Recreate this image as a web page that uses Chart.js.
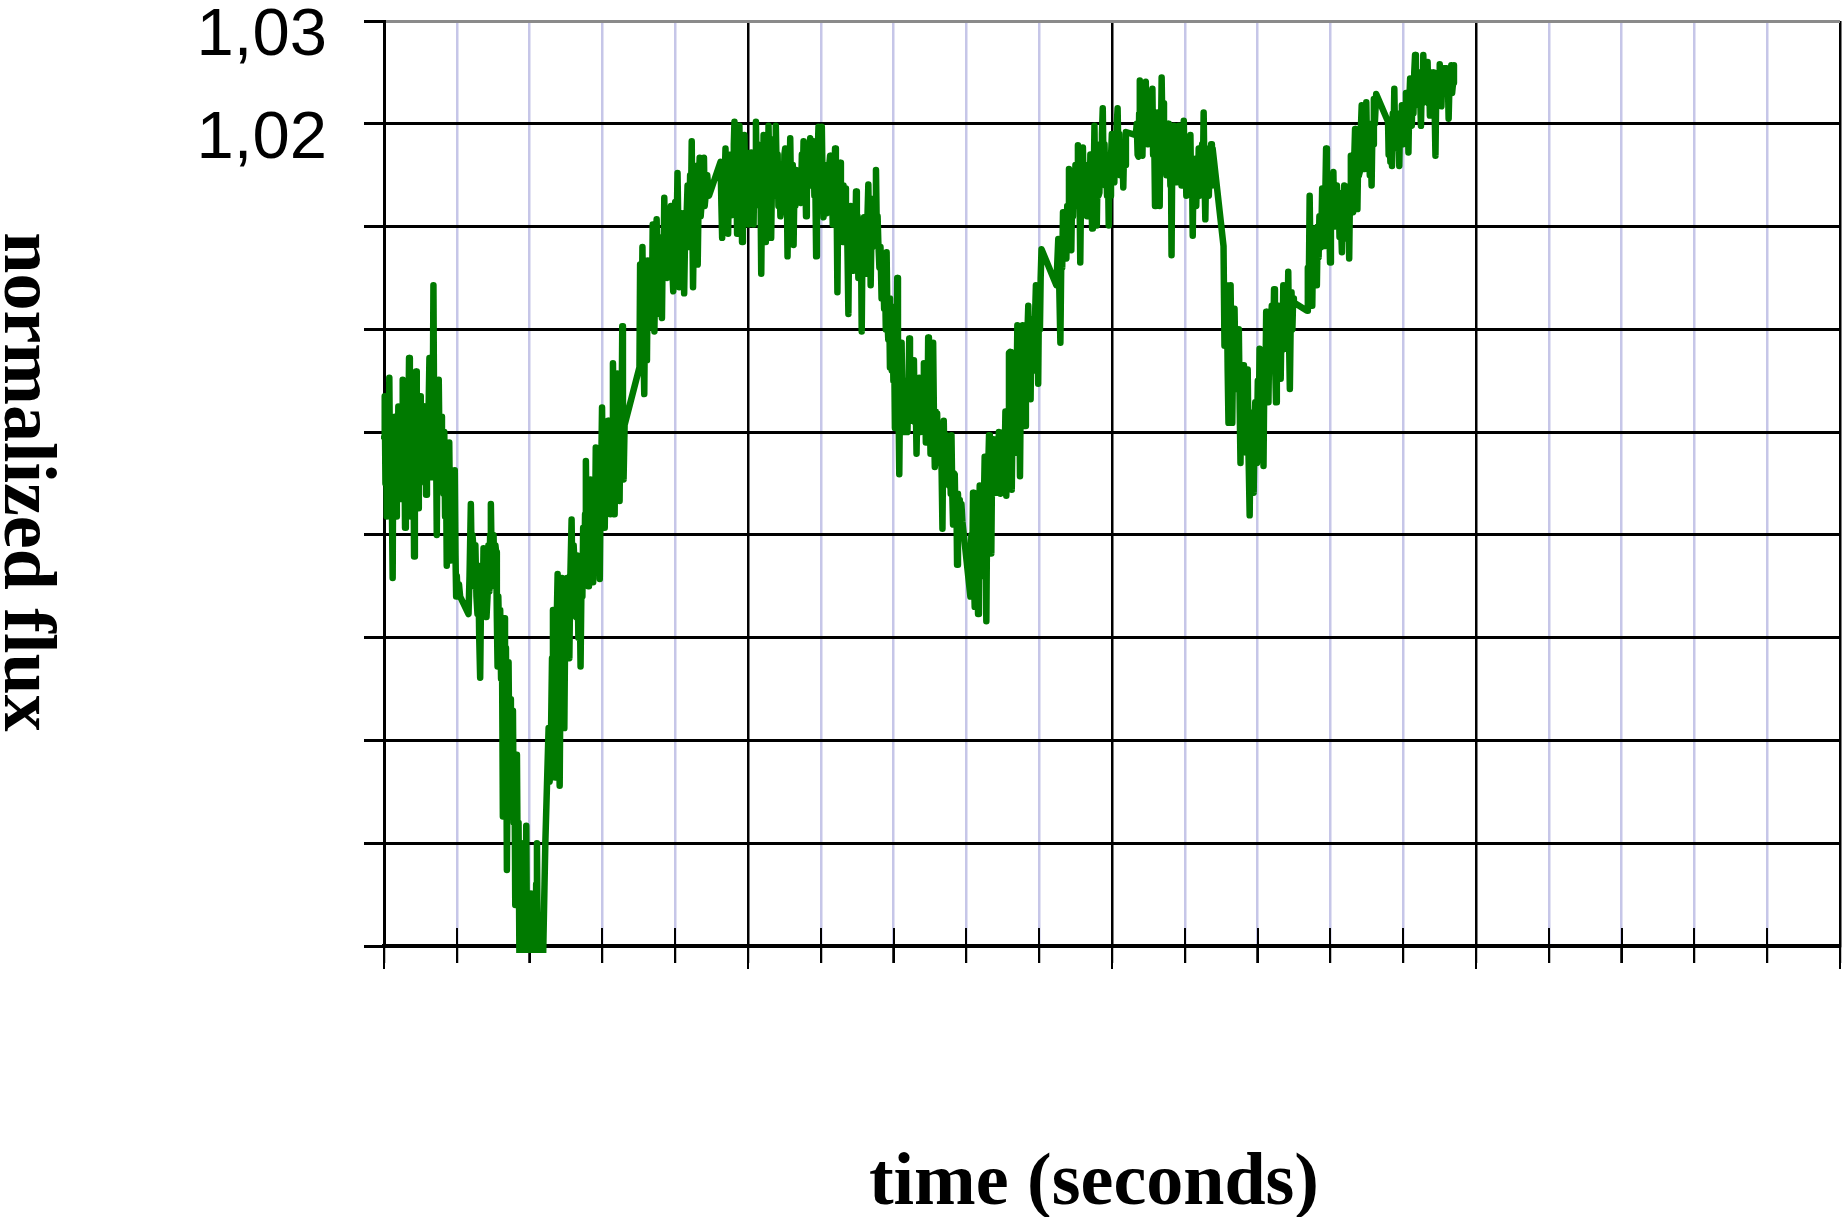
<!DOCTYPE html>
<html>
<head>
<meta charset="utf-8">
<title>normalized flux</title>
<script src="https://cdn.jsdelivr.net/npm/chart.js@4.4.1/dist/chart.umd.min.js"></script>
<style>
  html, body { margin: 0; padding: 0; background: #fff; }
  #wrap { position: relative; width: 1842px; height: 1217px; }
</style>
</head>
<body>
<div id="wrap"><canvas id="c"></canvas></div>
<script>
// Light-curve readings: [time (grid units of the time axis), normalized flux]
const readings = [
  [0,.9895],[.010,.9935],[.020,.9850],[.030,.9905],[.037,.9818],[.048,.9890],[.060,.9840],[.073,.9953],
  [.084,.9855],[.096,.9880],[.108,.9830],[.119,.9758],[.128,.9900],[.138,.9860],[.150,.9915],[.165,.9818],
  [.176,.9895],[.186,.9845],[.197,.9925],[.210,.9850],[.220,.9900],[.229,.9835],[.240,.9920],[.248,.9860],
  [.257,.9951],[.268,.9850],[.278,.9910],[.289,.9807],[.300,.9880],[.312,.9930],[.322,.9850],[.334,.9900],
  [.344,.9972],[.355,.9870],[.367,.9818],[.378,.9910],[.390,.9860],[.401,.9915],[.413,.9779],[.424,.9880],
  [.432,.9850],[.440,.9959],[.450,.9855],[.460,.9905],[.468,.9826],[.478,.9895],[.487,.9850],[.495,.9935],
  [.505,.9870],[.514,.9915],[.523,.9852],[.532,.9905],[.541,.9860],[.550,.9925],[.560,.9860],[.569,.9900],
  [.578,.9839],[.590,.9905],[.601,.9870],[.612,.9920],[.624,.9972],[.635,.9880],[.647,.9856],[.658,.9940],
  [.668,.9900],[.679,1.0043],[.688,.9920],[.697,.9886],[.710,.9940],[.725,.9800],[.735,.9900],[.744,.9860],
  [.752,.9951],[.763,.9880],[.775,.9878],[.785,.9915],[.796,.9850],[.807,.9895],[.818,.9840],[.828,.9900],
  [.839,.9818],[.850,.9880],[.862,.9770],[.873,.9870],[.885,.9843],[.896,.9890],[.907,.9820],[.917,.9775],
  [.928,.9850],[.937,.9800],[.945,.9861],[.955,.9790],[.964,.9840],[.972,.9863],[.982,.9780],[.991,.9740],
  [1.000,.9760],[1.010,.9745],[1.030,.9752],[1.046,.9740],[1.161,.9723],[1.175,.9760],[1.193,.9830],[1.205,.9770],
  [1.215,.9800],[1.229,.9787],[1.240,.9750],[1.255,.9790],[1.270,.9740],[1.284,.9723],[1.295,.9770],[1.308,.9700],
  [1.321,.9661],[1.333,.9740],[1.345,.9770],[1.357,.9730],[1.367,.9787],[1.380,.9745],[1.393,.9770],[1.408,.9720],
  [1.422,.9740],[1.435,.9790],[1.447,.9745],[1.458,.9800],[1.468,.9830],[1.480,.9770],[1.493,.9795],[1.505,.9800],
  [1.517,.9750],[1.530,.9790],[1.541,.9783],[1.550,.9720],[1.560,.9672],[1.570,.9740],[1.582,.9700],[1.596,.9727],
  [1.608,.9660],[1.620,.9700],[1.633,.9526],[1.642,.9650],[1.651,.9719],[1.662,.9640],[1.675,.9690],[1.688,.9474],
  [1.700,.9620],[1.711,.9676],[1.722,.9580],[1.733,.9640],[1.743,.9543],[1.755,.9610],[1.763,.9560],[1.771,.9629],
  [1.782,.9520],[1.792,.9580],[1.803,.9440],[1.815,.9530],[1.826,.9586],[1.836,.9480],[1.848,.9520],[1.862,.9370],
  [1.870,.9460],[1.880,.9400],[1.894,.9500],[1.905,.9380],[1.915,.9440],[1.927,.9370],[1.935,.9480],[1.945,.9390],
  [1.954,.9517],[1.965,.9380],[1.975,.9430],[1.986,.9370],[1.995,.9420],[2.006,.9370],[2.018,.9451],[2.028,.9380],
  [2.040,.9420],[2.055,.9370],[2.068,.9440],[2.080,.9380],[2.090,.9460],[2.101,.9500],[2.112,.9390],[2.125,.9430],
  [2.138,.9370],[2.150,.9410],[2.165,.9370],[2.180,.9370],
  [2.216,.9500],[2.240,.9560],[2.261,.9612],[2.275,.9560],[2.294,.9607],[2.308,.9680],[2.321,.9727],[2.335,.9640],
  [2.353,.9564],[2.368,.9700],[2.385,.9762],[2.398,.9660],[2.413,.9556],[2.428,.9700],[2.445,.9758],[2.460,.9680],
  [2.477,.9612],[2.490,.9720],[2.502,.9680],[2.514,.9758],[2.530,.9700],[2.546,.9680],
  [2.560,.9760],[2.577,.9815],[2.590,.9740],[2.605,.9790],[2.623,.9763],[2.640,.9720],[2.655,.9780],[2.670,.9700],
  [2.685,.9760],[2.700,.9672],[2.715,.9770],[2.725,.9740],[2.736,.9807],[2.750,.9760],[2.762,.9820],[2.773,.9872],
  [2.785,.9790],[2.795,.9830],[2.805,.9750],[2.815,.9810],[2.825,.9780],[2.836,.9854],[2.848,.9790],[2.860,.9830],
  [2.873,.9754],[2.885,.9820],[2.897,.9790],[2.909,.9885],[2.920,.9800],[2.930,.9850],[2.941,.9807],[2.952,.9850],
  [2.964,.9757],[2.975,.9840],[2.985,.9870],[2.995,.9924],[3.010,.9830],[3.020,.9870],[3.032,.9807],[3.045,.9880],
  [3.060,.9840],[3.077,.9911],[3.090,.9850],[3.100,.9890],[3.109,.9820],[3.120,.9900],[3.133,.9870],[3.145,.9967],
  [3.157,.9880],[3.168,.9820],[3.180,.9910],[3.192,.9870],[3.205,.9957],[3.218,.9880],[3.228,.9920],[3.236,.9833],
  [3.248,.9920],[3.260,.9880],[3.273,1.0003],[3.282,.9900],[3.291,.9854],[3.305,.9907],[3.509,.9963],
  [3.518,1.0063],[3.527,.9990],[3.536,.9980],[3.550,1.0080],[3.562,.9990],[3.575,.9937],[3.588,1.0040],[3.600,1.0030],
  [3.612,.9970],[3.623,1.0067],[3.640,1.0010],[3.655,1.0002],[3.670,1.0060],[3.680,1.0020],[3.691,1.0102],[3.703,1.0040],
  [3.714,.9998],[3.728,1.0070],[3.745,1.0107],[3.760,1.0040],[3.770,1.0080],[3.782,1.0015],[3.795,1.0080],[3.805,1.0040],
  [3.818,1.0011],[3.830,1.0090],[3.840,1.0060],[3.850,1.0128],[3.862,1.0070],[3.873,1.0085],[3.890,1.0050],[3.909,1.0080],
  [3.925,1.0100],[3.941,1.0120],[3.955,1.0070],[3.973,1.0037],[3.987,1.0100],[4.000,1.0124],[4.015,1.0080],[4.032,1.0152],
  [4.045,1.0090],[4.055,1.0041],[4.070,1.0110],[4.080,1.0080],[4.091,1.0113],[4.105,1.0060],[4.115,1.0110],[4.123,1.0035],
  [4.138,1.0100],[4.155,1.0107],[4.170,1.0140],[4.180,1.0080],[4.191,1.0093],[4.205,1.0150],[4.215,1.0110],[4.227,1.0183],
  [4.236,1.0100],[4.245,1.0041],[4.260,1.0120],[4.270,1.0100],[4.282,1.0159],[4.295,1.0100],[4.309,1.0063],[4.322,1.0130],
  [4.336,1.0167],[4.350,1.0110],[4.364,1.0124],[4.380,1.0150],[4.395,1.0167],[4.405,1.0120],[4.418,1.0130],[4.440,1.0150],
  [4.464,1.0130],
  [4.623,1.0163],[4.635,1.0120],[4.645,1.0089],[4.658,1.0160],[4.670,1.0130],[4.681,1.0150],[4.691,1.0176],[4.705,1.0120],
  [4.717,1.0150],[4.727,1.0093],[4.740,1.0160],[4.750,1.0130],[4.762,1.0170],[4.773,1.0111],[4.785,1.0170],[4.795,1.0140],
  [4.805,1.0180],[4.814,1.0202],[4.825,1.0140],[4.838,1.0170],[4.850,1.0093],[4.860,1.0160],[4.870,1.0140],[4.882,1.0198],
  [4.895,1.0130],[4.905,1.0170],[4.918,1.0085],[4.930,1.0160],[4.940,1.0130],[4.950,1.0189],[4.963,1.0140],[4.977,1.0172],
  [4.990,1.0120],[5.000,1.0160],[5.009,1.0102],[5.020,1.0170],[5.032,1.0130],[5.045,1.0172],[5.055,1.0120],[5.066,1.0160],
  [5.077,1.0102],[5.088,1.0170],[5.098,1.0140],[5.109,1.0202],[5.120,1.0140],[5.133,1.0180],[5.145,1.0172],[5.158,1.0120],
  [5.170,1.0150],[5.182,1.0054],[5.195,1.0150],[5.205,1.0120],[5.214,1.0189],[5.225,1.0130],[5.235,1.0160],[5.245,1.0085],
  [5.258,1.0160],[5.270,1.0130],[5.282,1.0198],[5.295,1.0140],[5.307,1.0160],[5.318,1.0089],[5.330,1.0150],[5.340,1.0170],
  [5.350,1.0185],[5.362,1.0130],[5.372,1.0170],[5.382,1.0198],[5.395,1.0150],[5.407,1.0170],[5.418,1.0120],
  [5.430,1.0160],[5.445,1.0110],[5.466,1.0123],[5.478,1.0160],[5.490,1.0130],[5.500,1.0170],[5.511,1.0176],[5.522,1.0120],
  [5.532,1.0150],[5.543,1.0071],[5.555,1.0150],[5.567,1.0130],[5.580,1.0186],[5.592,1.0130],[5.605,1.0160],[5.615,1.0120],
  [5.626,1.0082],[5.638,1.0140],[5.650,1.0120],[5.662,1.0155],[5.726,1.0123],[5.740,1.0170],[5.752,1.0140],[5.763,1.0183],
  [5.775,1.0130],[5.786,1.0160],[5.797,1.0110],[5.808,1.0130],[5.820,1.0170],[5.832,1.0140],[5.843,1.0175],[5.854,1.0186],
  [5.866,1.0140],[5.877,1.0170],[5.888,1.0150],[5.900,1.0183],[5.912,1.0130],[5.924,1.0150],[5.936,1.0071],[5.946,1.0150],
  [5.957,1.0170],[5.968,1.0197],[5.980,1.0150],[5.991,1.0180],[6.003,1.0140],[6.014,1.0197],[6.025,1.0140],[6.037,1.0109],
  [6.048,1.0160],[6.060,1.0130],[6.070,1.0150],[6.082,1.0113],[6.094,1.0150],[6.106,1.0130],[6.117,1.0160],[6.128,1.0169],
  [6.140,1.0120],[6.152,1.0140],[6.164,1.0102],[6.175,1.0150],[6.185,1.0130],[6.196,1.0176],[6.207,1.0110],[6.217,1.0130],
  [6.228,1.0036],[6.240,1.0130],[6.252,1.0100],[6.265,1.0162],[6.276,1.0110],[6.288,1.0130],[6.301,1.0085],[6.312,1.0140],
  [6.322,1.0110],[6.333,1.0137],[6.345,1.0090],[6.357,1.0120],[6.368,1.0070],[6.379,1.0015],[6.390,1.0100],[6.400,1.0080],
  [6.411,1.0120],[6.423,1.0080],[6.435,1.0110],[6.447,1.0057],[6.460,1.0110],[6.472,1.0080],[6.484,1.0134],[6.495,1.0080],
  [6.505,1.0110],[6.516,1.0050],[6.530,1.0100],[6.540,1.0060],[6.551,1.0090],[6.562,.9998],[6.572,1.0080],[6.583,1.0060],
  [6.594,1.0109],[6.605,1.0060],[6.617,1.0090],[6.630,1.0054],[6.641,1.0110],[6.653,1.0141],[6.664,1.0080],[6.675,1.0110],
  [6.685,1.0043],[6.697,1.0100],[6.709,1.0080],[6.721,1.0127],[6.733,1.0090],[6.745,1.0120],[6.758,1.0155],[6.770,1.0090],
  [6.780,1.0110],[6.790,1.0085],
  [6.805,1.0060],[6.820,1.0080],[6.835,1.0030],[6.845,1.0060],[6.858,1.0057],[6.870,1.0020],[6.882,1.0050],[6.893,1.0000],
  [6.904,1.0075],[6.915,1.0010],[6.927,.9990],[6.938,1.0030],[6.950,.9963],[6.962,1.0000],[6.975,.9960],[6.986,1.0022],
  [6.997,.9950],[7.008,.9980],[7.018,.9904],[7.030,.9970],[7.040,.9940],[7.050,1.0050],[7.060,.9950],[7.070,.9910],
  [7.078,.9859],[7.090,.9950],[7.100,.9920],[7.110,.9987],[7.121,.9920],[7.131,.9950],[7.142,.9900],[7.155,.9950],
  [7.166,.9920],[7.178,.9946],[7.190,.9900],[7.203,.9940],[7.215,.9991],[7.225,.9920],[7.236,.9950],[7.247,.9911],
  [7.258,.9950],[7.268,.9920],[7.279,.9970],[7.290,.9910],[7.302,.9940],[7.315,.9879],[7.327,.9930],[7.340,.9900],
  [7.352,.9953],[7.363,.9900],[7.373,.9930],[7.384,.9911],[7.395,.9950],[7.405,.9910],[7.416,.9967],[7.427,.9900],
  [7.435,.9930],[7.443,.9890],[7.455,.9940],[7.465,.9910],[7.475,.9992],[7.485,.9910],[7.496,.9930],[7.507,.9879],
  [7.518,.9940],[7.530,.9900],[7.543,.9987],[7.555,.9910],[7.566,.9866],[7.578,.9920],[7.588,.9890],[7.598,.9918],
  [7.610,.9870],[7.622,.9900],[7.635,.9879],[7.648,.9900],[7.660,.9860],[7.671,.9806],[7.680,.9880],[7.689,.9911],
  [7.700,.9860],[7.713,.9880],[7.726,.9897],[7.738,.9850],[7.750,.9880],[7.763,.9848],[7.775,.9870],[7.785,.9840],
  [7.795,.9897],[7.806,.9840],[7.817,.9810],[7.828,.9860],[7.840,.9859],[7.851,.9810],[7.862,.9840],[7.872,.9771],
  [7.884,.9840],[7.896,.9810],[7.909,.9834],[7.920,.9800],[7.932,.9830],[7.945,.9813],[8.055,.9740],[8.068,.9800],
  [8.080,.9760],[8.091,.9841],[8.103,.9760],[8.114,.9730],[8.126,.9790],[8.138,.9750],[8.149,.9780],[8.160,.9723],
  [8.172,.9800],[8.183,.9848],[8.195,.9780],[8.206,.9820],[8.217,.9760],[8.228,.9771],[8.240,.9830],[8.251,.9876],
  [8.262,.9790],[8.274,.9716],[8.285,.9820],[8.298,.9860],[8.311,.9897],[8.322,.9830],[8.332,.9860],[8.342,.9782],
  [8.352,.9860],[8.362,.9840],[8.374,.9893],[8.386,.9850],[8.398,.9870],[8.411,.9841],[8.422,.9890],[8.434,.9860],
  [8.446,.9900],[8.457,.9893],[8.468,.9840],[8.480,.9880],[8.491,.9850],[8.502,.9862],[8.514,.9900],[8.525,.9870],
  [8.536,.9920],[8.548,.9838],[8.560,.9910],[8.572,.9870],[8.585,.9977],
  [8.600,.9978],[8.612,.9900],[8.623,.9844],[8.635,.9920],[8.645,.9880],[8.656,.9960],[8.668,.9939],[8.680,.9880],
  [8.690,.9950],[8.700,1.0004],[8.712,.9920],[8.724,.9960],[8.736,.9857],[8.748,.9950],[8.760,.9920],[8.773,1.0004],
  [8.785,.9940],[8.795,.9970],[8.805,.9906],[8.817,.9980],[8.830,.9950],[8.840,1.0000],[8.850,1.0023],[8.860,.9960],
  [8.871,.9990],[8.882,.9932],[8.893,1.0010],[8.905,.9970],[8.918,1.0000],[8.930,.9960],[8.942,1.0010],[8.955,1.0043],
  [8.965,.9980],[8.975,1.0020],[8.986,.9947],[8.998,1.0040],[9.010,1.0000],[9.020,1.0050],[9.032,1.0078],[9.236,1.0043],
  [9.262,1.0088],[9.291,.9987],
  [9.305,1.0080],[9.316,1.0060],[9.327,1.0114],[9.338,1.0070],[9.350,1.0100],[9.362,1.0080],[9.373,1.0069],[9.385,1.0120],
  [9.397,1.0100],[9.409,1.0156],[9.420,1.0100],[9.430,1.0120],[9.441,1.0077],[9.452,1.0130],[9.464,1.0110],[9.475,1.0150],
  [9.486,1.0127],[9.498,1.0160],[9.510,1.0120],[9.521,1.0150],[9.532,1.0179],[9.543,1.0120],[9.553,1.0140],[9.564,1.0065],
  [9.576,1.0140],[9.588,1.0120],[9.600,1.0177],[9.612,1.0130],[9.623,1.0160],[9.634,1.0120],[9.645,1.0150],[9.657,1.0110],
  [9.668,1.0160],[9.680,1.0130],[9.691,1.0111],[9.703,1.0170],[9.715,1.0130],[9.727,1.0098],[9.737,1.0160],[9.748,1.0140],
  [9.759,1.0198],[9.770,1.0130],[9.780,1.0160],[9.791,1.0101],[9.803,1.0160],[9.815,1.0130],[9.827,1.0133],[9.838,1.0180],
  [9.850,1.0150],[9.862,1.0190],[9.873,1.0215],[9.885,1.0150],[9.897,1.0180],[9.909,1.0140],[9.920,1.0170],[9.932,1.0130],
  [9.944,1.0160],[9.955,1.0101],[9.965,1.0160],[9.976,1.0130],[9.986,1.0166],[9.998,1.0190],[10.010,1.0150],[10.021,1.0180],
  [10.032,1.0143],[10.043,1.0190],[10.055,1.0160],[10.066,1.0200],[10.077,1.0215],[10.088,1.0170],[10.100,1.0190],[10.112,1.0150],
  [10.123,1.0182],[10.135,1.0150],[10.145,1.0170],[10.155,1.0138],[10.167,1.0180],[10.180,1.0160],[10.191,1.0192],[10.327,1.0189],
  [10.340,1.0200],[10.352,1.0170],[10.364,1.0168],[10.373,1.0210],[10.382,1.0242],[10.393,1.0180],[10.405,1.0200],[10.418,1.0169],
  [10.430,1.0220],[10.441,1.0190],[10.452,1.0230],[10.464,1.0241],[10.475,1.0190],[10.487,1.0220],[10.498,1.0180],[10.509,1.0189],
  [10.520,1.0220],[10.532,1.0190],[10.543,1.0210],[10.555,1.0234],[10.565,1.0170],[10.578,1.0200],[10.591,1.0120],[10.602,1.0200],
  [10.612,1.0170],[10.623,1.0211],[10.634,1.0160],[10.645,1.0190],[10.655,1.0120],[10.665,1.0210],[10.673,1.0190],[10.682,1.0245],
  [10.693,1.0190],[10.703,1.0220],[10.714,1.0198],[10.725,1.0170],[10.737,1.0200],[10.748,1.0150],[10.759,1.0156],[10.770,1.0200],
  [10.780,1.0170],[10.791,1.0189],[10.802,1.0140],[10.810,1.0160],[10.818,1.0072],[10.828,1.0170],[10.839,1.0150],[10.850,1.0198],
  [10.861,1.0150],[10.872,1.0180],[10.882,1.0143],[10.894,1.0190],[10.906,1.0160],[10.918,1.0198],[10.930,1.0150],[10.942,1.0180],
  [10.955,1.0140],[10.965,1.0180],[10.976,1.0150],[10.986,1.0203],[10.998,1.0150],[11.010,1.0180],[11.021,1.0130],[11.032,1.0140],
  [11.044,1.0180],[11.055,1.0150],[11.066,1.0170],[11.077,1.0189],[11.088,1.0130],[11.098,1.0160],[11.109,1.0091],[11.120,1.0160],
  [11.132,1.0130],[11.145,1.0166],[11.157,1.0120],[11.168,1.0150],[11.180,1.0130],[11.191,1.0176],[11.203,1.0130],[11.215,1.0160],
  [11.227,1.0133],[11.238,1.0180],[11.248,1.0150],[11.259,1.0211],[11.270,1.0150],[11.282,1.0107],[11.294,1.0160],[11.306,1.0130],
  [11.318,1.0176],[11.330,1.0130],[11.340,1.0160],[11.350,1.0150],[11.362,1.0180],[11.372,1.0140],[11.382,1.0176],[11.532,1.0081],
  [11.545,.9984],[11.560,1.0030],[11.577,1.0043],[11.589,.9960],[11.600,.9909],[11.615,1.0000],[11.629,1.0043],[11.641,.9960],
  [11.652,.9909],[11.665,.9990],[11.675,.9950],[11.683,1.0020],[11.697,.9960],[11.710,.9942],[11.722,.9990],[11.732,.9950],
  [11.742,1.0000],[11.755,.9920],[11.765,.9870],[11.777,.9950],[11.789,.9910],[11.801,.9965],[11.812,.9900],[11.822,.9940],
  [11.833,.9939],[11.845,.9880],[11.855,.9920],[11.864,.9961],[11.875,.9880],[11.883,.9850],[11.891,.9819],[11.903,.9900],
  [11.913,.9870],[11.923,.9919],[11.935,.9860],[11.946,.9841],[11.957,.9900],[11.968,.9929],[11.980,.9870],[11.991,.9893],
  [12.003,.9950],[12.015,.9900],[12.027,.9981],[12.038,.9920],[12.048,.9950],[12.059,.9909],[12.070,.9950],[12.081,.9867],
  [12.093,.9960],[12.105,.9930],[12.118,1.0017],[12.128,.9950],[12.138,.9990],[12.149,.9929],[12.160,.9990],[12.172,.9960],
  [12.183,1.0000],[12.195,1.0023],[12.205,.9960],[12.215,.9990],[12.226,1.0039],[12.238,.9970],[12.246,.9950],[12.253,.9929],
  [12.264,1.0000],[12.275,.9970],[12.285,1.0023],[12.297,.9970],[12.307,1.0000],[12.317,.9952],[12.329,1.0010],[12.341,.9980],
  [12.353,1.0043],[12.365,.9990],[12.377,1.0020],[12.389,.9981],[12.400,1.0030],[12.410,1.0000],[12.421,1.0056],[12.432,.9990],
  [12.443,.9942],[12.455,1.0010],[12.466,1.0036],[12.478,1.0000],[12.488,1.0030],[12.498,1.0026],[12.679,1.0018],
  [12.690,1.0060],[12.703,1.0040],[12.715,1.0130],[12.727,1.0060],[12.739,1.0090],[12.751,1.0023],[12.762,1.0080],[12.772,1.0060],
  [12.783,1.0098],[12.795,1.0060],[12.805,1.0080],[12.814,1.0043],[12.826,1.0100],[12.838,1.0070],[12.849,1.0110],[12.860,1.0101],
  [12.872,1.0080],[12.887,1.0137],[12.898,1.0090],[12.908,1.0110],[12.919,1.0081],[12.930,1.0130],[12.941,1.0176],[12.952,1.0110],
  [12.964,1.0101],[12.975,1.0140],[12.985,1.0100],[12.995,1.0065],[13.007,1.0130],[13.018,1.0100],[13.030,1.0140],[13.041,1.0153],
  [13.052,1.0100],[13.065,1.0130],[13.077,1.0101],[13.089,1.0140],[13.101,1.0110],[13.113,1.0133],[13.125,1.0090],[13.136,1.0120],
  [13.147,1.0100],[13.158,1.0075],[13.168,1.0130],[13.179,1.0110],[13.190,1.0140],[13.201,1.0100],[13.213,1.0130],[13.224,1.0110],
  [13.235,1.0088],[13.247,1.0120],[13.258,1.0069],[13.270,1.0140],[13.281,1.0169],[13.292,1.0120],[13.302,1.0150],[13.312,1.0114],
  [13.325,1.0160],[13.339,1.0195],[13.350,1.0140],[13.360,1.0170],[13.371,1.0117],[13.382,1.0170],[13.392,1.0150],[13.403,1.0153],
  [13.416,1.0190],[13.430,1.0218],[13.441,1.0160],[13.452,1.0190],[13.462,1.0156],[13.473,1.0200],[13.483,1.0170],[13.493,1.0221],
  [13.505,1.0170],[13.517,1.0200],[13.529,1.0185],[13.541,1.0150],[13.553,1.0190],[13.566,1.0140],[13.578,1.0200],[13.588,1.0180],
  [13.597,1.0224],[13.610,1.0200],[13.620,1.0215],[13.629,1.0229],[13.792,1.0202],
  [13.800,1.0170],[13.812,1.0190],[13.824,1.0163],[13.835,1.0200],[13.846,1.0159],[13.857,1.0210],[13.868,1.0190],[13.878,1.0234],
  [13.890,1.0180],[13.902,1.0210],[13.914,1.0176],[13.925,1.0210],[13.936,1.0190],[13.946,1.0159],[13.958,1.0210],[13.970,1.0190],
  [13.982,1.0218],[13.993,1.0180],[14.005,1.0210],[14.016,1.0190],[14.027,1.0198],[14.038,1.0230],[14.050,1.0190],[14.061,1.0220],
  [14.072,1.0172],[14.083,1.0220],[14.095,1.0244],[14.107,1.0200],[14.118,1.0198],[14.130,1.0240],[14.141,1.0210],[14.152,1.0250],
  [14.163,1.0267],[14.174,1.0220],[14.186,1.0250],[14.197,1.0230],[14.208,1.0218],[14.220,1.0250],[14.232,1.0230],[14.244,1.0198],
  [14.255,1.0240],[14.266,1.0220],[14.276,1.0267],[14.288,1.0230],[14.299,1.0228],[14.310,1.0250],[14.322,1.0230],[14.335,1.0260],
  [14.346,1.0220],[14.357,1.0240],[14.367,1.0208],[14.378,1.0240],[14.389,1.0250],[14.400,1.0220],[14.412,1.0250],[14.422,1.0230],
  [14.433,1.0210],[14.443,1.0169],[14.452,1.0220],[14.462,1.0240],[14.471,1.0247],[14.482,1.0220],[14.492,1.0240],[14.502,1.0258],
  [14.513,1.0230],[14.525,1.0217],[14.537,1.0250],[14.549,1.0230],[14.561,1.0254],[14.572,1.0230],[14.583,1.0240],[14.593,1.0254],
  [14.604,1.0230],[14.614,1.0240],[14.624,1.0205],[14.636,1.0240],[14.648,1.0230],[14.661,1.0257],[14.672,1.0230],[14.685,1.0240],
  [14.697,1.0257]
];

// Axis extents and the two labelled flux levels
const timeRange = [0, 20];
const fluxRange = [0.94, 1.03];
const yLabelValues = [1.03, 1.02];
const yLabelTexts = ['1,03', '1,02'];
const xTitle = 'time (seconds)';
const yTitle = 'normalized flux';

const points = readings.map(([t, v]) => ({ x: t, y: v }));

const isMajor = v => Math.abs(v % 5) < 1e-9;
const labelFor = v => {
  const k = yLabelValues.findIndex(l => Math.abs(l - v) < 1e-6);
  return k >= 0 ? yLabelTexts[k] : '';
};

// Tick marks across the time axis and the two axis titles
const axisDecor = {
  id: 'axisDecor',
  beforeDatasetsDraw(chart) {
    const { ctx, chartArea, scales } = chart;
    const xs = scales.x;
    const yb = chartArea.bottom;
    ctx.save();
    ctx.strokeStyle = '#000';
    ctx.lineWidth = 2;
    xs.ticks.forEach(tk => {
      const px = Math.round(xs.getPixelForValue(tk.value));
      ctx.beginPath();
      if (isMajor(tk.value)) {
        ctx.moveTo(px, yb);
        ctx.lineTo(px, yb + 23);
      } else {
        ctx.moveTo(px, yb - 18);
        ctx.lineTo(px, yb + 17);
      }
      ctx.stroke();
    });
    ctx.restore();
  },
  afterDraw(chart) {
    const { ctx, chartArea } = chart;
    ctx.save();
    ctx.fillStyle = '#000';
    ctx.font = 'bold 74px "Liberation Serif", "Times New Roman", serif';
    ctx.textAlign = 'center';
    ctx.textBaseline = 'alphabetic';
    const w = chartArea.right - chartArea.left;
    ctx.fillText(xTitle, chartArea.left + 0.4876 * w, chartArea.bottom + 258);
    // vertical title, turned a quarter clockwise so it reads downward
    const cy = (chartArea.top + chartArea.bottom) / 2 - 1.5;
    ctx.translate(5, cy);
    ctx.rotate(Math.PI / 2);
    ctx.fillText(yTitle, 0, 0);
    ctx.restore();
  }
};

new Chart(document.getElementById('c'), {
  type: 'line',
  data: {
    datasets: [{
      data: points,
      borderColor: '#007a00',
      borderWidth: 6.5,
      pointRadius: 0,
      tension: 0,
      borderJoinStyle: 'round',
      borderCapStyle: 'round',
      clip: { left: 3, top: 3, right: 3, bottom: 7 }
    }]
  },
  options: {
    responsive: true,
    maintainAspectRatio: false,
    devicePixelRatio: 1,
    animation: false,
    events: [],
    layout: { padding: { top: 21, right: 2, left: 0, bottom: 0 } },
    plugins: { legend: { display: false }, tooltip: { enabled: false }, title: { display: false } },
    scales: {
      x: {
        type: 'linear',
        min: timeRange[0],
        max: timeRange[1],
        ticks: { display: false, stepSize: 1 },
        grid: {
          color: c => (c.tick && isMajor(c.tick.value)) ? '#000' : '#c6c6e8',
          lineWidth: 2.5,
          drawTicks: true,
          tickLength: 17,
          tickColor: '#000',
          tickWidth: 2
        },
        border: { display: true, color: '#000', width: 3.5 },
        afterFit: s => { s.height = 271; s.paddingLeft = 0; s.paddingRight = 0; }
      },
      y: {
        type: 'linear',
        min: fluxRange[0],
        max: fluxRange[1],
        ticks: {
          stepSize: 0.01,
          autoSkip: false,
          padding: 37,
          labelOffset: 16,
          color: '#000',
          font: { family: '"Liberation Sans", Arial, sans-serif', size: 67 },
          callback: v => labelFor(v)
        },
        grid: {
          color: c => (c.tick && Math.abs(c.tick.value - fluxRange[1]) < 1e-6) ? '#8a8a8a' : '#000',
          lineWidth: 3,
          drawTicks: true,
          tickLength: 20,
          tickColor: '#000',
          tickWidth: 3
        },
        border: { display: true, color: '#000', width: 3 },
        afterFit: s => { s.width = 384; s.paddingTop = 0; s.paddingBottom = 0; }
      }
    }
  },
  plugins: [axisDecor]
});
</script>
</body>
</html>
